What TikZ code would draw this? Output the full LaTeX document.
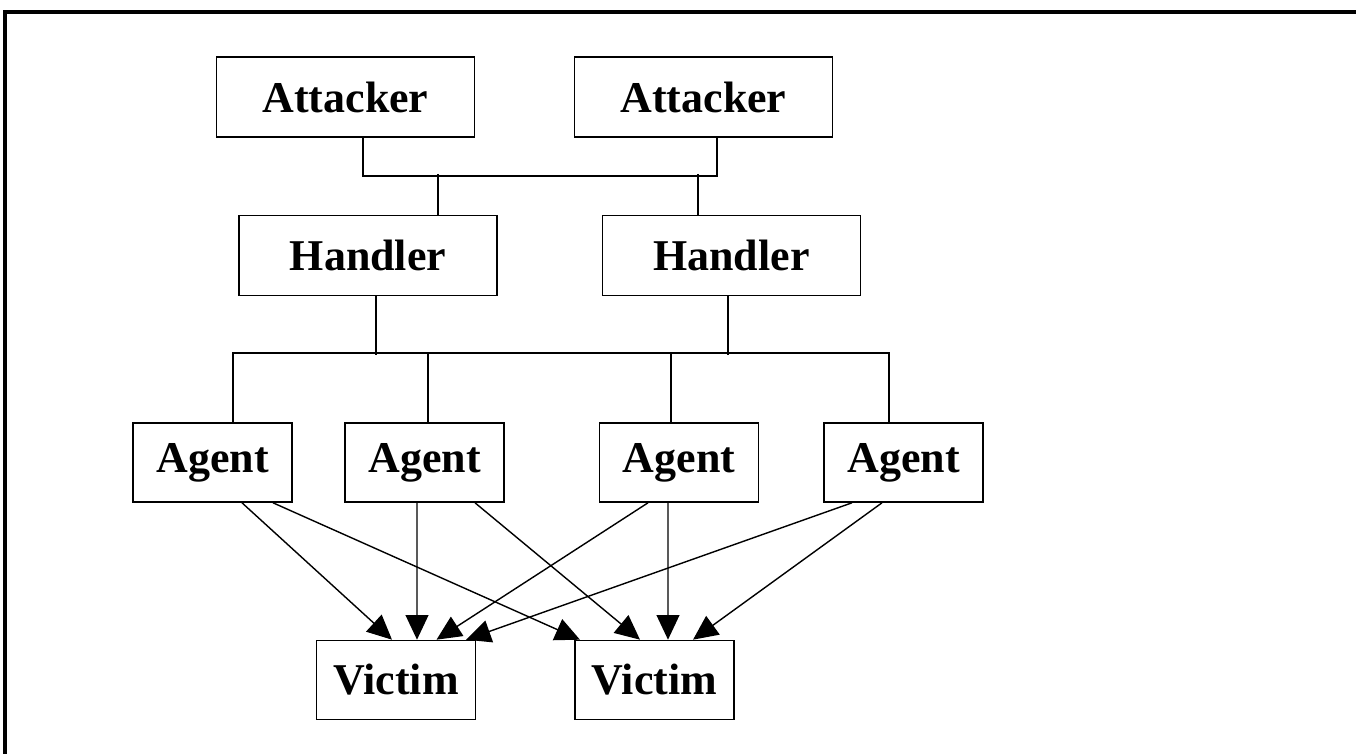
\documentclass[tikz,border=0pt]{standalone}
\usepackage{fontspec}
\setmainfont{Liberation Serif}
\usepackage{tikz}
\usetikzlibrary{
  arrows.meta,  % Triangle 箭头
  calc          % 坐标计算
}
\tikzset{
  box/.style={
    draw,
    rectangle,
    line width=0.45pt,
    inner sep=0pt,
    font=\fontsize{12.5}{14}\selectfont\bfseries
  },
  big box/.style={
    box,
    minimum width=2.58cm,
    minimum height=0.80cm
  },
  small box/.style={
    box,
    minimum width=1.59cm,
    minimum height=0.79cm
  },
  tree line/.style={
    line width=0.45pt
  },
  attack/.style={
    -{Triangle[length=7pt,width=6.5pt]},
    line width=0.4pt
  },
  frame line/.style={
    line width=0.9pt
  }
}

\begin{document}
\begin{tikzpicture}[x=0.01cm, y=-0.01cm]
    \useasboundingbox (0,0) rectangle (1356,754);

    % 1. 外框 (只露出左边与上边)
    \draw[frame line] (5,754) |- (1356,12);

    % 2. 各层节点
    \node[big box] (att1) at (345.5,97) {Attacker};
    \node[big box] (att2) at (703.5,97) {Attacker};

    \node[big box] (hdl1) at (368,255.5) {Handler};
    \node[big box] (hdl2) at (731.5,255.5) {Handler};

    \node[small box] (agt1) at (212.5,462.5) {Agent};
    \node[small box] (agt2) at (424.5,462.5) {Agent};
    \node[small box] (agt3) at (679,462.5) {Agent};
    \node[small box] (agt4) at (903.5,462.5) {Agent};

    \node[small box] (vic1) at (396,680) {Victim};
    \node[small box] (vic2) at (654.5,680) {Victim};

    % 3. Attacker 与 Handler 之间的总线
    \draw[tree line] ([xshift=.175cm]att1.south) -- ++(0,38) -| ([xshift=.135cm]att2.south);
    \draw[tree line] ([xshift=.70cm]hdl1.north) -- ++(0,-41);
    \draw[tree line] ([xshift=-.335cm]hdl2.north) -- ++(0,-41);

    % 4. Handler 与 Agent 之间的总线
    \draw[tree line] ([xshift=.205cm]agt1.north) -- ++(0,-69) -| ([xshift=-.145cm]agt4.north);
    \draw[tree line] ([xshift=.035cm]agt2.north) -- ++(0,-69);
    \draw[tree line] ([xshift=-.08cm]agt3.north) -- ++(0,-69);
    \draw[tree line] ([xshift=.08cm]hdl1.south) -- ++(0,59);
    \draw[tree line] ([xshift=-.035cm]hdl2.south) -- ++(0,59);

    % 5. Agent 攻击 Victim
    \draw[attack] ([xshift=.295cm]agt1.south) -- ([xshift=-.04cm]vic1.north);
    \draw[attack] ([xshift=.605cm]agt1.south) -- ([xshift=-.745cm]vic2.north);
    \draw[attack] ([xshift=-.075cm]agt2.south) -- ([xshift=.21cm]vic1.north);
    \draw[attack] ([xshift=.505cm]agt2.south) -- ([xshift=-.145cm]vic2.north);
    \draw[attack] ([xshift=-.31cm]agt3.south) -- ([xshift=.405cm]vic1.north);
    \draw[attack] ([xshift=-.11cm]agt3.south) -- ([xshift=.135cm]vic2.north);
    \draw[attack] ([xshift=-.515cm]agt4.south) -- ([xshift=.70cm]vic1.north);
    \draw[attack] ([xshift=-.215cm]agt4.south) -- ([xshift=.385cm]vic2.north);

  \end{tikzpicture}
\end{document}
